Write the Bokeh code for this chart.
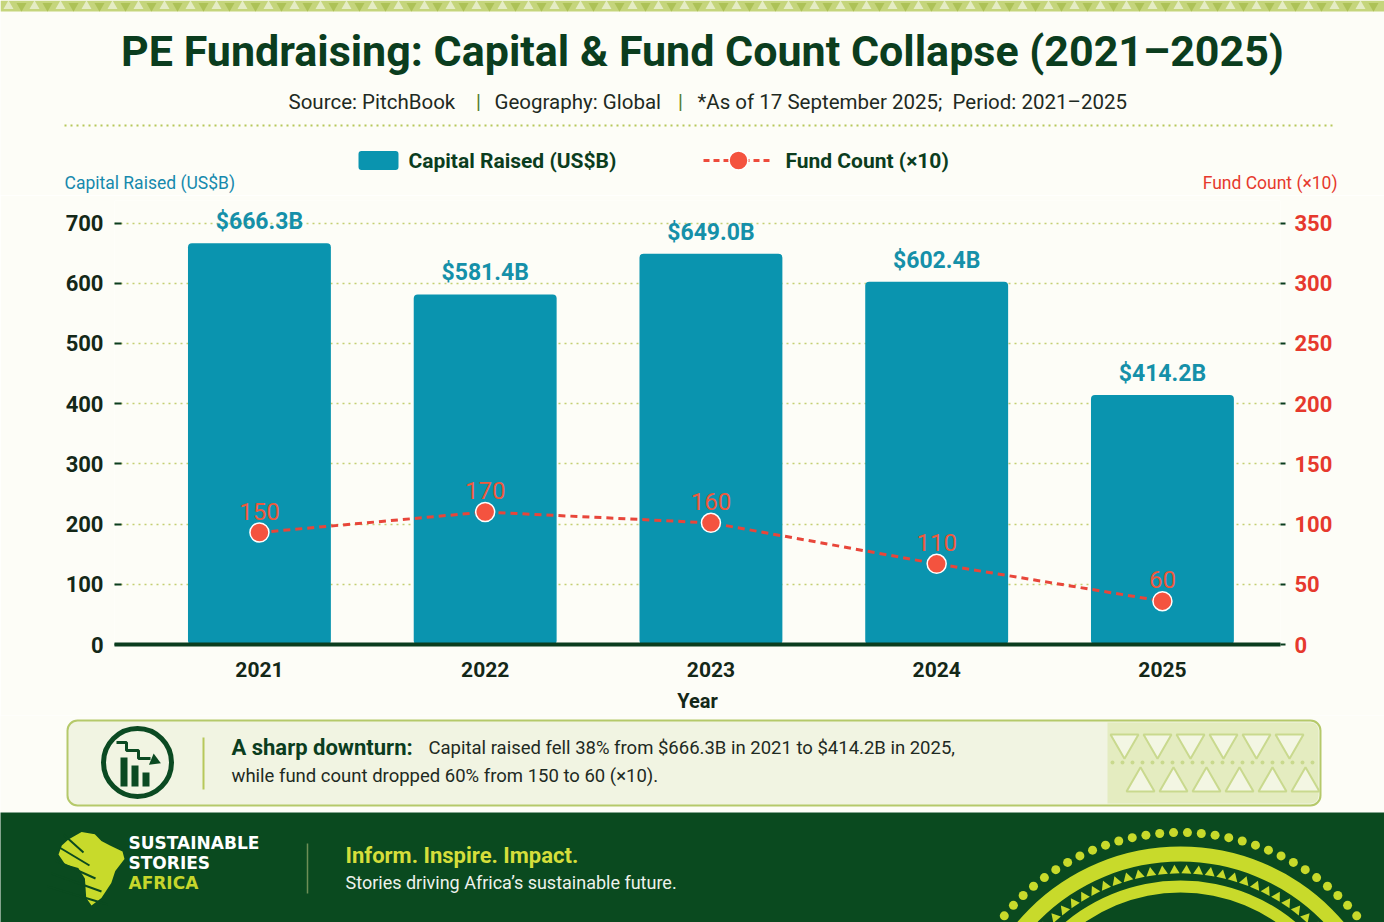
import numpy as np
from bokeh.plotting import figure
from bokeh.layouts import column
from bokeh.models import Range1d, LinearAxis, FixedTicker
from bokeh.core.properties import value
from bokeh.embed import file_html
from bokeh.resources import INLINE

# ---- data ----
years = [2021, 2022, 2023, 2024, 2025]
capital = [666.3, 581.4, 649.0, 602.4, 414.2]          # US$B
fund_count = [150, 170, 160, 110, 60]                  # labels (x10)
fund_marker_level = [93, 110, 101, 67, 36]             # where the markers sit on the right axis
left_ticks = [0, 100, 200, 300, 400, 500, 600, 700]
right_ticks = [0, 50, 100, 150, 200, 250, 300, 350]

W = 1384
BG = "#FDFDF7"
DARK = "#0B3D1E"
TEAL = "#0A94AF"
RED = "#EE4B3B"
OLIVE = "#B7C85A"
LIME = "#C8DA2B"
FACE = "Roboto"
ROBOTO = value(FACE)


def canvas(h, bg=BG):
    c = figure(width=W, height=h, x_range=Range1d(0, W), y_range=Range1d(0, h),
               x_axis_type=None, y_axis_type=None, toolbar_location=None,
               output_backend="svg", min_border=0, frame_align=False,
               background_fill_color=bg, border_fill_color=bg, outline_line_color=None)
    return c


# ---------------- header ----------------
hh = 195
head = canvas(hh)
head.quad(left=0, right=W, bottom=hh - 11, top=hh, fill_color="#C5D57C", line_color=None)
bx = np.arange(8, W, 26)
head.scatter(bx, np.full(len(bx), hh - 5.5), marker="triangle", size=10,
             fill_color="white", fill_alpha=0.55, line_color=None)
head.scatter(bx + 13, np.full(len(bx), hh - 5.5), marker="inverted_triangle", size=10,
             fill_color="#9DB640", fill_alpha=0.6, line_color=None)

head.text(x=[702], y=[145], text=["PE Fundraising: Capital & Fund Count Collapse (2021\u20132025)"],
          text_font=ROBOTO, text_font_size="43px", text_font_style="bold",
          text_color=DARK, text_align="center", text_baseline="middle")

sub_parts = ["Source: PitchBook", "Geography: Global",
             "*As of 17 September 2025;\u00a0 Period: 2021\u20132025"]
head.text(x=[288, 494, 697], y=[94, 94, 94], text=sub_parts, text_font=ROBOTO,
          text_font_size="20.5px", text_color="#1E2A22", text_align="left",
          text_baseline="middle")
head.text(x=[478, 680], y=[94, 94], text=["|", "|"], text_font=ROBOTO,
          text_font_size="20px", text_color="#4F7A2A", text_align="center",
          text_baseline="middle")
head.line([64, 1336], [70, 70], line_color=OLIVE, line_width=2, line_dash="2 4")

# legend
head.quad(left=358, right=398, bottom=25.5, top=44.5, fill_color=TEAL, line_color=None,
          border_radius=3)
head.text(x=[408], y=[35], text=["Capital Raised (US$B)"], text_font=ROBOTO,
          text_font_size="21px", text_font_style="bold", text_color=DARK,
          text_align="left", text_baseline="middle")
head.line([703, 773], [35, 35], line_color=RED, line_width=3, line_dash="6 4")
head.scatter([738], [35], size=19, fill_color="#F4533F", line_color="white", line_width=1.5)
head.text(x=[785], y=[35], text=["Fund Count (\u00d710)"], text_font=ROBOTO,
          text_font_size="21px", text_font_style="bold", text_color=DARK,
          text_align="left", text_baseline="middle")

# axis titles
head.text(x=[64], y=[13], text=["Capital Raised (US$B)"], text_font=ROBOTO,
          text_font_size="17.5px", text_color="#1689AD", text_align="left",
          text_baseline="middle")
head.text(x=[1337], y=[13], text=["Fund Count (\u00d710)"], text_font=ROBOTO,
          text_font_size="17.5px", text_color="#E6392D", text_align="right",
          text_baseline="middle")

# ---------------- chart ----------------
p = figure(width=W, height=520, x_range=Range1d(2020.358, 2025.523), y_range=Range1d(0, 737.4),
           toolbar_location=None, output_backend="svg", frame_align=False,
           min_border_left=114, min_border_right=104, min_border_top=5, min_border_bottom=61,
           background_fill_color=BG, border_fill_color=BG, outline_line_color=None)
p.extra_y_ranges = {"fund": Range1d(0, 368.7)}

p.xgrid.visible = False
p.ygrid.ticker = FixedTicker(ticks=left_ticks)
p.ygrid.grid_line_color = "#C4CF72"
p.ygrid.grid_line_dash = "2 4"
p.ygrid.grid_line_width = 1.6

p.yaxis.ticker = FixedTicker(ticks=left_ticks)
p.yaxis.axis_line_color = None
p.yaxis.major_tick_in = 7
p.yaxis.major_tick_out = 0
p.yaxis.major_tick_line_color = DARK
p.yaxis.major_tick_line_width = 2
p.yaxis.minor_tick_line_color = None
p.yaxis.major_label_standoff = 11
p.yaxis.major_label_text_font = FACE
p.yaxis.major_label_text_font_size = "22px"
p.yaxis.major_label_text_font_style = "bold"
p.yaxis.major_label_text_color = "#142818"

p.xaxis.ticker = FixedTicker(ticks=years)
p.xaxis.axis_line_color = DARK
p.xaxis.axis_line_width = 4
p.xaxis.major_tick_line_color = None
p.xaxis.minor_tick_line_color = None
p.xaxis.major_label_standoff = 11
p.xaxis.major_label_text_font = FACE
p.xaxis.major_label_text_font_size = "21px"
p.xaxis.major_label_text_font_style = "bold"
p.xaxis.major_label_text_color = "#142818"
p.xaxis.axis_label = "Year"
p.xaxis.axis_label_standoff = 9
p.xaxis.axis_label_text_font = FACE
p.xaxis.axis_label_text_font_size = "20px"
p.xaxis.axis_label_text_font_style = "bold"
p.xaxis.axis_label_text_color = "#142818"

right = LinearAxis(y_range_name="fund", ticker=FixedTicker(ticks=right_ticks),
                   axis_line_color=None, major_tick_in=0, major_tick_out=5,
                   major_tick_line_color=DARK, major_tick_line_width=2,
                   minor_tick_line_color=None, major_label_standoff=9,
                   major_label_text_font=FACE, major_label_text_font_size="22px",
                   major_label_text_font_style="bold", major_label_text_color="#E6392D")
p.add_layout(right, "right")

p.vbar(x=years, top=capital, width=0.633, bottom=0, fill_color=TEAL, line_color=None,
       border_radius=4)
p.text(x=years, y=capital, text=[f"${v:.1f}B" for v in capital], text_font=ROBOTO,
       text_font_size="23px", text_font_style="bold", text_color="#1590A9",
       text_align="center", text_baseline="bottom", y_offset=-8)

p.line(years, fund_marker_level, y_range_name="fund", line_color="#E8463A",
       line_width=3, line_dash="7 5")
p.scatter(years, fund_marker_level, y_range_name="fund", size=19, fill_color="#F4533F",
          line_color="white", line_width=1.5)
p.text(x=years, y=fund_marker_level, text=[str(v) for v in fund_count], y_range_name="fund",
       text_font=ROBOTO, text_font_size="24px", text_color="#F05A3C",
       text_align="center", text_baseline="bottom", y_offset=-13)

# ---------------- callout ----------------
ch = 97
call = canvas(ch)
call.quad(left=67, right=1320, bottom=7, top=92, fill_color="#F1F4E2", line_color="#B5C96A",
          line_width=2, border_radius=10)
call.quad(left=1107, right=1318, bottom=9, top=90, fill_color="#E4ECC0", line_color=None,
          border_radius=[0, 8, 8, 0])
tx = np.arange(1124, 1300, 33)
call.scatter(tx, np.full(len(tx), 70), marker="inverted_triangle", size=28,
             fill_color="white", fill_alpha=0.55, line_color="#C9D98E", line_width=2)
call.scatter(tx + 16, np.full(len(tx), 29), marker="triangle", size=28,
             fill_color="white", fill_alpha=0.55, line_color="#C9D98E", line_width=2)
dx = np.arange(1112, 1316, 10)
call.scatter(dx, np.full(len(dx), 50), size=4, fill_color="#C9D98E", line_color=None)

# icon
call.circle(x=[137], y=[50], radius=34, fill_color=None, line_color="#0B4A22", line_width=5)
call.quad(left=[120, 131, 142], right=[127, 138, 149], bottom=[26, 26, 26],
          top=[55, 47, 40], fill_color="#0B4A22", line_color=None)
call.line([116, 126, 126, 138, 138, 150], [70, 70, 62, 62, 54, 54], line_color="#0B4A22",
          line_width=3)
call.scatter([154], [52], marker="triangle", size=12, angle=-np.pi / 2 - 0.4,
             fill_color="#0B4A22", line_color=None)
call.line([203, 203], [23, 75], line_color=OLIVE, line_width=2)

cap_drop = round((1 - capital[-1] / capital[0]) * 100)
fund_drop = round((1 - fund_count[-1] / fund_count[0]) * 100)
call.text(x=[231], y=[65], text=["A sharp downturn:"], text_font=ROBOTO, text_font_size="22px",
          text_font_style="bold", text_color=DARK, text_align="left", text_baseline="middle")
call.text(x=[428, 231], y=[65, 37],
          text=[f"Capital raised fell {cap_drop}% from ${capital[0]:.1f}B in {years[0]} "
                f"to ${capital[-1]:.1f}B in {years[-1]},",
                f"while fund count dropped {fund_drop}% from {fund_count[0]} to "
                f"{fund_count[-1]} (\u00d710)."],
          text_font=ROBOTO, text_font_size="18.5px", text_color="#1E2A22",
          text_align="left", text_baseline="middle")

# ---------------- footer ----------------
fh = 110
foot = canvas(fh, bg="#0A4A1F")
cx, cy = 1180, -138
th = np.linspace(0.2, np.pi - 0.2, 46)
foot.scatter(cx + 228 * np.cos(th), cy + 228 * np.sin(th), size=9, fill_color=LIME,
             line_color=None)
foot.annulus(x=[cx], y=[cy], inner_radius=199, outer_radius=214, fill_color=LIME,
             line_color=None)
tt = np.linspace(0.35, np.pi - 0.35, 40)
foot.scatter(cx + 190 * np.cos(tt), cy + 190 * np.sin(tt), marker="triangle", size=10,
             angle=tt - np.pi / 2, fill_color=LIME, line_color=None)
foot.annulus(x=[cx], y=[cy], inner_radius=168, outer_radius=180, fill_color=LIME,
             line_color=None)

# logo (stylised Africa)
ax = np.array([0.15, 0.35, 0.55, 0.65, 0.78, 0.97, 1.0, 0.86, 0.80, 0.65, 0.50, 0.42,
               0.40, 0.30, 0.10, 0.0, 0.05])
ay = np.array([0.88, 0.98, 0.95, 0.86, 0.80, 0.72, 0.62, 0.46, 0.30, 0.10, 0.0, 0.10,
               0.36, 0.50, 0.55, 0.68, 0.80])
foot.patch(58 + ax * 66, 17 + ay * 75, fill_color=LIME, line_color=None)
for k in range(5):
    foot.line(np.array([63 - k * 4, 83 + k * 6]), np.array([88 - k * 13, 70 - k * 13]),
              line_color="#0A4A1F", line_width=2)

foot.text(x=[128, 128, 128], y=[80, 60, 40], text=["SUSTAINABLE", "STORIES", "AFRICA"],
          text_font=value("DejaVu Sans"), text_font_size="17px", text_font_style="bold",
          text_color=["#FFFFFF", "#FFFFFF", "#C6D62C"], text_align="left",
          text_baseline="middle")
foot.line([307, 307], [29, 79], line_color="#6E8E56", line_width=1.5)
foot.text(x=[345], y=[67], text=["Inform. Inspire. Impact."], text_font=ROBOTO,
          text_font_size="22px", text_font_style="bold", text_color="#D5DE3B",
          text_align="left", text_baseline="middle")
foot.text(x=[345], y=[40], text=["Stories driving Africa\u2019s sustainable future."],
          text_font=ROBOTO, text_font_size="18px", text_color="#EEF2EC",
          text_align="left", text_baseline="middle")

layout = column(head, p, call, foot, spacing=0)
open("out.html", "w").write(file_html(layout, INLINE))
